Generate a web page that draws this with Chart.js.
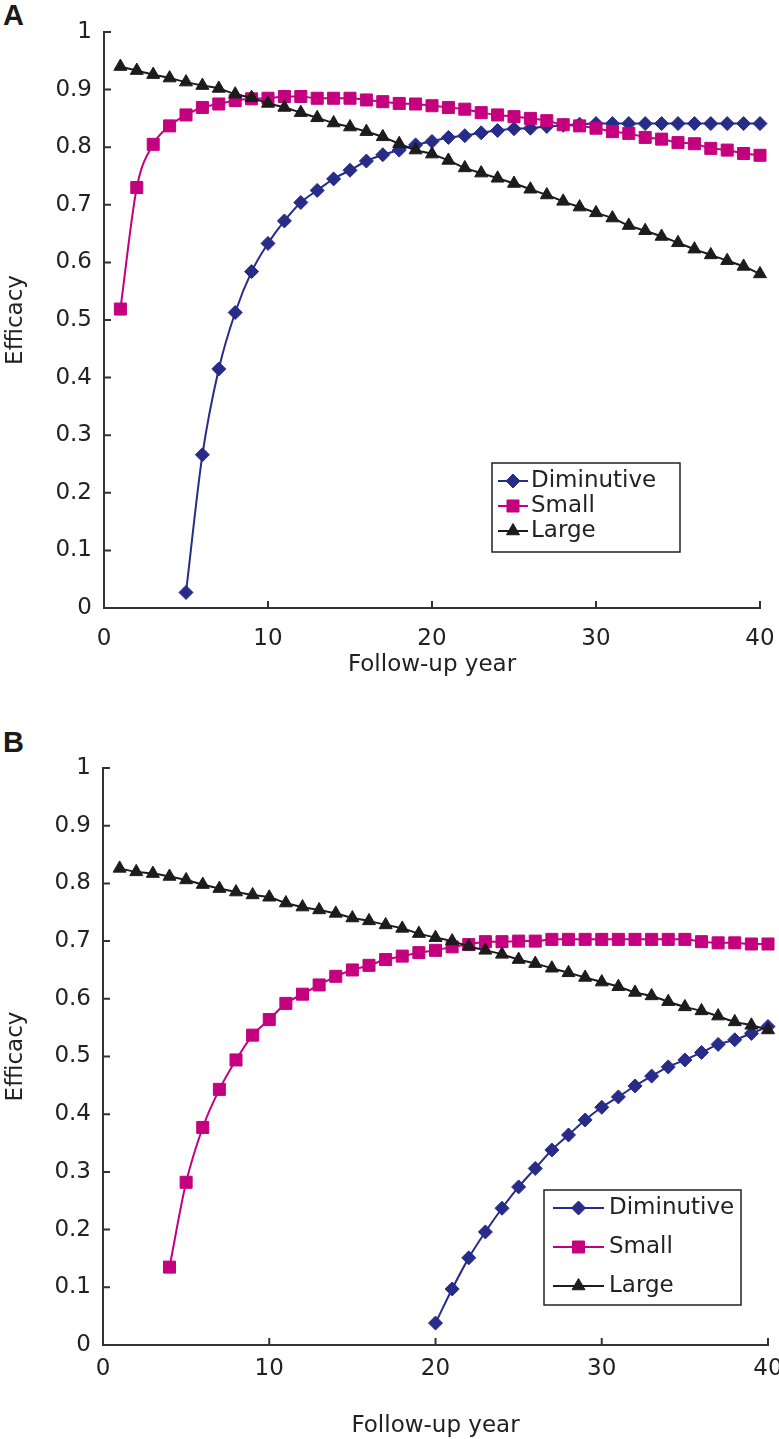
<!DOCTYPE html>
<html lang="en">
<head>
<meta charset="UTF-8">
<title>Efficacy by follow-up year</title>
<script src="https://cdn.jsdelivr.net/npm/chart.js@4.4.1/dist/chart.umd.min.js"></script>
<style>
    * { margin: 0; padding: 0; box-sizing: border-box; }
    body {
        width: 779px;
        height: 1439px;
        overflow: hidden;
        background: #fff;
        position: relative;
        font-family: 'Liberation Sans', Arial, sans-serif;
    }
    canvas { position: absolute; left: 0; }
    #chartA { top: 0; }
    #chartB { top: 712px; }
    .tag {
        position: absolute;
        left: 3px;
        font-size: 29px;
        font-weight: bold;
        line-height: 1;
        color: #1a1a1a;
    }
</style>
</head>
<body>
<div class="tag" style="top:1px">A</div>
<div class="tag" style="top:728px">B</div>
<canvas id="chartA" width="779" height="700"></canvas>
<canvas id="chartB" width="779" height="727"></canvas>

<script>
// follow-up years (x)
const years = [1, 2, 3, 4, 5, 6, 7, 8, 9, 10, 11, 12, 13, 14, 15, 16, 17, 18, 19, 20,
               21, 22, 23, 24, 25, 26, 27, 28, 29, 30, 31, 32, 33, 34, 35, 36, 37, 38, 39, 40];

// panel A
const dimA = [null, null, null, null, 0.027, 0.266, 0.415, 0.513, 0.584, 0.633,
              0.672, 0.704, 0.725, 0.745, 0.760, 0.776, 0.787, 0.795, 0.804, 0.810,
              0.817, 0.820, 0.825, 0.829, 0.832, 0.833, 0.836, 0.838, 0.840, 0.841,
              0.841, 0.841, 0.841, 0.841, 0.841, 0.841, 0.841, 0.841, 0.841, 0.841];
const smallA = [0.519, 0.730, 0.805, 0.837, 0.856, 0.869, 0.875, 0.881, 0.884, 0.885,
                0.888, 0.888, 0.885, 0.885, 0.885, 0.882, 0.879, 0.876, 0.875, 0.872,
                0.869, 0.866, 0.860, 0.856, 0.853, 0.850, 0.846, 0.839, 0.837, 0.833,
                0.827, 0.824, 0.817, 0.814, 0.808, 0.806, 0.798, 0.795, 0.789, 0.786];
const largeA = [0.940, 0.933, 0.926, 0.920, 0.913, 0.907, 0.902, 0.892, 0.886, 0.876,
                0.869, 0.860, 0.851, 0.842, 0.835, 0.827, 0.818, 0.806, 0.795, 0.788,
                0.777, 0.764, 0.755, 0.746, 0.737, 0.727, 0.717, 0.706, 0.696, 0.686,
                0.677, 0.664, 0.655, 0.645, 0.634, 0.623, 0.613, 0.603, 0.593, 0.580];

// panel B
const dimB = [null, null, null, null, null, null, null, null, null, null,
              null, null, null, null, null, null, null, null, null, 0.038,
              0.097, 0.151, 0.196, 0.237, 0.274, 0.306, 0.338, 0.364, 0.390, 0.412,
              0.430, 0.449, 0.466, 0.482, 0.494, 0.507, 0.521, 0.529, 0.540, 0.552];
const smallB = [null, null, null, 0.135, 0.282, 0.377, 0.443, 0.494, 0.537, 0.564,
                0.592, 0.608, 0.624, 0.639, 0.650, 0.658, 0.668, 0.674, 0.680, 0.684,
                0.690, 0.694, 0.699, 0.699, 0.700, 0.700, 0.703, 0.703, 0.703, 0.703,
                0.703, 0.703, 0.703, 0.703, 0.703, 0.699, 0.697, 0.697, 0.695, 0.695];
const largeB = [0.826, 0.820, 0.817, 0.812, 0.806, 0.798, 0.791, 0.785, 0.780, 0.776,
                0.766, 0.759, 0.754, 0.748, 0.740, 0.735, 0.728, 0.722, 0.713, 0.706,
                0.700, 0.691, 0.684, 0.677, 0.668, 0.661, 0.653, 0.645, 0.637, 0.629,
                0.621, 0.611, 0.605, 0.595, 0.586, 0.579, 0.570, 0.560, 0.554, 0.546];

const seriesNames = ['Diminutive', 'Small', 'Large'];
const xTicks = [0, 10, 20, 30, 40];
const yTicks = [0, 0.1, 0.2, 0.3, 0.4, 0.5, 0.6, 0.7, 0.8, 0.9, 1];

const NAVY = '#272c88';
const MAGENTA = '#c4007f';
const BLACK = '#1c1c1c';
const TEXT = '#222';
const FONT = "'DejaVu Sans', sans-serif";
const FSIZE = 23;

function points(values) {
    return years.map((yr, i) => ({ x: yr, y: values[i] }));
}

// small tick marks pointing into the plot
const innerTicks = {
    id: 'innerTicks',
    beforeDatasetsDraw(chart) {
        const { ctx, chartArea: a, scales: { x, y } } = chart;
        ctx.save();
        ctx.strokeStyle = '#333';
        ctx.lineWidth = 2;
        ctx.beginPath();
        x.ticks.forEach(t => {
            const px = x.getPixelForValue(t.value);
            ctx.moveTo(px, a.bottom);
            ctx.lineTo(px, a.bottom - 7);
        });
        y.ticks.forEach(t => {
            const py = y.getPixelForValue(t.value);
            ctx.moveTo(a.left, py);
            ctx.lineTo(a.left + 7, py);
        });
        ctx.stroke();
        ctx.restore();
    }
};

// boxed legend with line + marker samples
const boxLegend = {
    id: 'boxLegend',
    afterDraw(chart, args, o) {
        const ctx = chart.ctx;
        ctx.save();
        ctx.fillStyle = '#fff';
        ctx.fillRect(o.left, o.top, o.width, o.height);
        ctx.strokeStyle = '#222';
        ctx.lineWidth = 1.5;
        ctx.strokeRect(o.left, o.top, o.width, o.height);
        ctx.font = o.size + 'px ' + FONT;
        ctx.textBaseline = 'middle';
        chart.data.datasets.forEach((ds, i) => {
            const y = o.first + i * o.gap;
            const x0 = o.left + o.pad;
            ctx.strokeStyle = ds.borderColor;
            ctx.lineWidth = 2;
            ctx.beginPath();
            ctx.moveTo(x0, y);
            ctx.lineTo(x0 + o.lineLen, y);
            ctx.stroke();
            ctx.fillStyle = ds.backgroundColor;
            ctx.lineWidth = 1;
            Chart.helpers.drawPoint(ctx, {
                pointStyle: ds.pointStyle, rotation: 0, radius: ds.pointRadius, borderWidth: 1
            }, x0 + o.lineLen / 2, y);
            ctx.fillStyle = TEXT;
            ctx.fillText(ds.label, x0 + o.lineLen + o.textGap, y);
        });
        ctx.restore();
    }
};

function makeChart(id, dim, small, large, lay) {
    const common = {
        borderWidth: 2,
        pointBorderWidth: 1,
        cubicInterpolationMode: 'monotone',
        clip: false
    };
    return new Chart(document.getElementById(id), {
        type: 'line',
        data: {
            datasets: [
                Object.assign({
                    label: seriesNames[0], data: points(dim),
                    borderColor: NAVY, backgroundColor: NAVY,
                    pointStyle: 'rectRot', pointRadius: 7, order: 3
                }, common),
                Object.assign({
                    label: seriesNames[1], data: points(small),
                    borderColor: MAGENTA, backgroundColor: MAGENTA,
                    pointStyle: 'rect', pointRadius: 8.5, order: 2
                }, common),
                Object.assign({
                    label: seriesNames[2], data: points(large),
                    borderColor: BLACK, backgroundColor: BLACK,
                    pointStyle: 'triangle', pointRadius: 7.5, order: 1
                }, common)
            ]
        },
        options: {
            responsive: false,
            animation: false,
            layout: { padding: lay.padding },
            plugins: {
                legend: { display: false },
                tooltip: { enabled: false },
                boxLegend: lay.legend
            },
            scales: {
                x: {
                    type: 'linear',
                    min: 0,
                    max: 40,
                    afterBuildTicks: s => { s.ticks = xTicks.map(v => ({ value: v })); },
                    afterFit: s => { s.height = lay.xH; s.paddingLeft = 0; s.paddingRight = 0; },
                    grid: { display: false, drawTicks: false },
                    border: { color: '#333', width: 2 },
                    ticks: {
                        color: TEXT,
                        padding: lay.xPad,
                        maxRotation: 0,
                        font: { family: FONT, size: FSIZE }
                    },
                    title: {
                        display: true,
                        text: 'Follow-up year',
                        color: TEXT,
                        padding: 0,
                        font: { family: FONT, size: FSIZE, lineHeight: 1 }
                    }
                },
                y: {
                    min: 0,
                    max: 1,
                    afterBuildTicks: s => { s.ticks = yTicks.map(v => ({ value: v })); },
                    afterFit: s => { s.width = lay.yW; s.paddingTop = 0; s.paddingBottom = 0; },
                    grid: { display: false, drawTicks: false },
                    border: { color: '#333', width: 2 },
                    ticks: {
                        color: TEXT,
                        padding: 12,
                        font: { family: FONT, size: FSIZE },
                        callback: v => String(+v.toFixed(1))
                    },
                    title: {
                        display: true,
                        text: 'Efficacy',
                        color: TEXT,
                        padding: { top: 5, bottom: 0 },
                        font: { family: FONT, size: FSIZE, lineHeight: 1 }
                    }
                }
            }
        },
        plugins: [innerTicks, boxLegend]
    });
}

makeChart('chartA', dimA, smallA, largeA, {
    padding: { top: 32, right: 19, bottom: 23, left: 0 },
    yW: 104,
    xH: 69,
    xPad: 17,
    legend: { left: 492, top: 463, width: 188, height: 89, first: 481, gap: 25,
              pad: 6, lineLen: 30, textGap: 3, size: 23 }
});

makeChart('chartB', dimB, smallB, largeB, {
    padding: { top: 56, right: 11, bottom: 1, left: 0 },
    yW: 103,
    xH: 93,
    xPad: 10,
    legend: { left: 544, top: 478, width: 197, height: 115, first: 496, gap: 39,
              pad: 9, lineLen: 51, textGap: 5, size: 23 }
});
</script>
</body>
</html>
